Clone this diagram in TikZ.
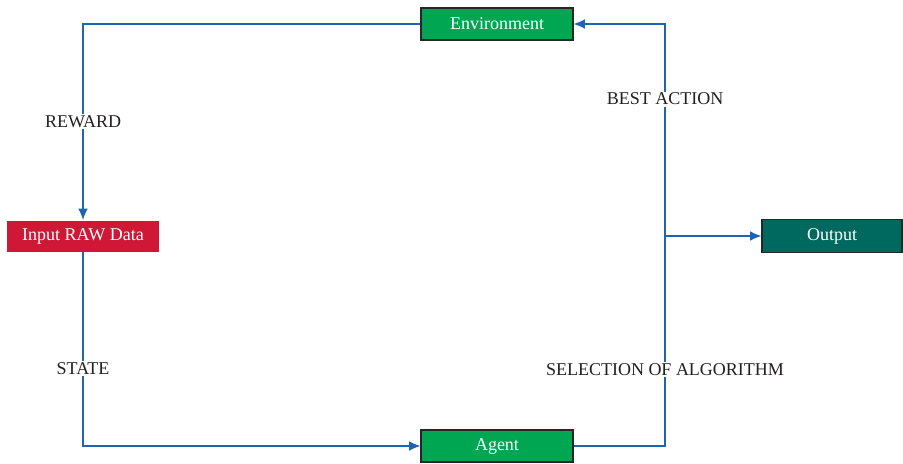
\documentclass[tikz,border=0pt]{standalone}
\usepackage{fontspec}
\setmainfont{Liberation Serif}
\usetikzlibrary{arrows.meta, positioning}
\definecolor{cgreen}{HTML}{00A651}
\definecolor{cred}{HTML}{CE1836}
\definecolor{cteal}{HTML}{00695F}
\definecolor{cblue}{HTML}{1F63B4}
\definecolor{ctext}{HTML}{231F20}
\tikzset{
  every picture/.style={font=\fontsize{12.8}{14}\selectfont},
  box/.style={fill=#1, draw=black!85, line width=0.8pt, text=white, minimum width=3.8cm, minimum height=0.8cm, inner sep=0pt},
  box/.default=cgreen,
  arrow/.style={-{Latex[length=2.8mm, width=2.4mm]}, draw=cblue, line width=0.9pt},
  lbl/.style={fill=white, text=ctext, inner xsep=2pt, inner ysep=1pt},
}
\begin{document}
\begin{tikzpicture}[x=0.025cm, y=-0.025cm]
  \useasboundingbox (0,0) rectangle (903,463);
  \node[box] (env) at (497,24) {Environment};
  \node[box=cred, draw=none, minimum height=0.775cm] (input) at (83,236) {Input RAW Data};
  \node[box] (agent) at (497,446) {Agent};
  \node[box=cteal, minimum width=3.5cm, minimum height=0.825cm] (output) at (832,236) {Output};
  \coordinate (split) at (665,236);
  % loop round the four boxes
  \draw[arrow] (env.west) -| node[lbl, pos=0.75] {REWARD} (input.north);
  \draw[arrow] (input.south) |- node[lbl, pos=0.3] {STATE} (agent.west);
  \draw[arrow] (agent.east) -| node[lbl, pos=0.683] {SELECTION OF ALGORITHM} (split)
                            |- node[lbl, pos=0.323] {BEST ACTION} (env.east);
  \draw[arrow] (split) -- (output.west);
\end{tikzpicture}
\end{document}
